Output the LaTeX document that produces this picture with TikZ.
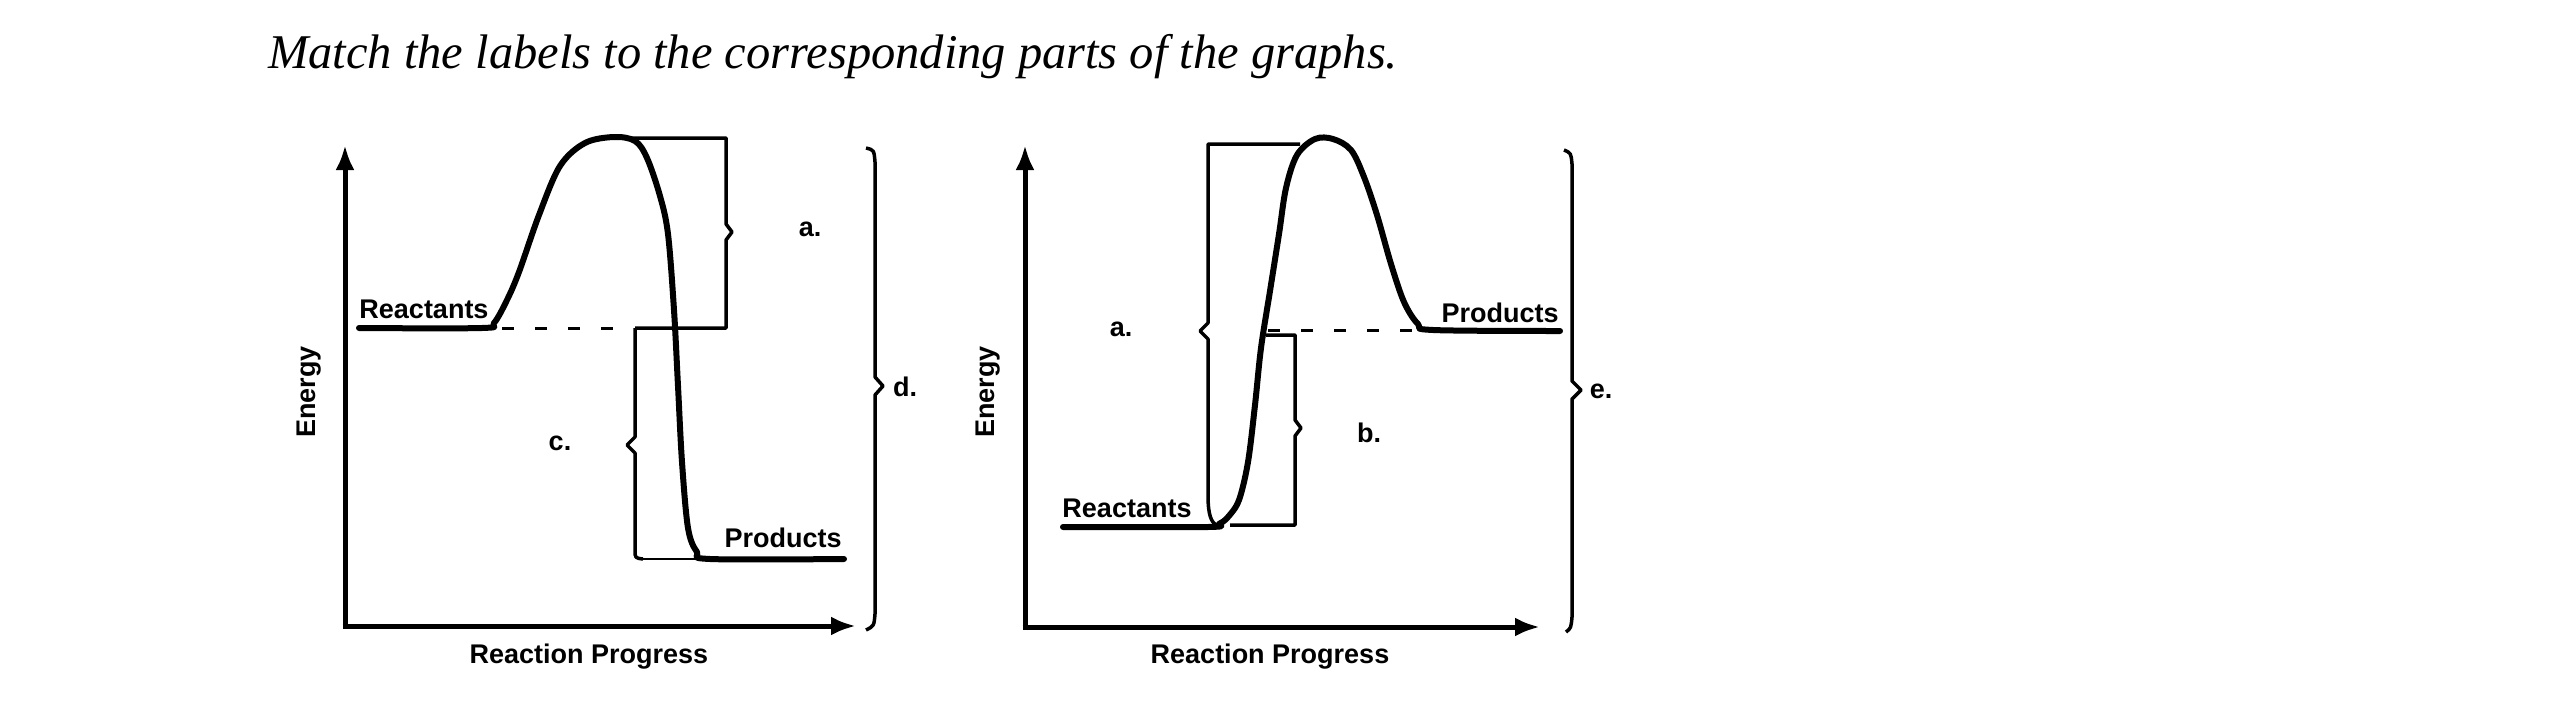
\documentclass[tikz,border=0pt]{standalone}
\usepackage{fontspec}
\setmainfont{Liberation Serif}
\setsansfont{Liberation Sans}
\usetikzlibrary{arrows.meta}
\begin{document}
\begin{tikzpicture}[x=1pt,y=-1pt,
  axis/.style={line width=5pt,-{Latex[length=25pt,width=19pt]}},
  curve/.style={line width=6pt,line join=round,line cap=round},
  brk/.style={line width=3.5pt,line join=round},
  thinl/.style={line width=2.5pt},
  dsh/.style={line width=3pt,dash pattern=on 12pt off 21pt},
  lab/.style={font=\sffamily\bfseries\fontsize{27}{31}\selectfont,inner sep=0pt},
  ttl/.style={font=\itshape\fontsize{48.5}{56}\selectfont,inner sep=0pt,anchor=base west}
  ]
\useasboundingbox (0,0) rectangle (2550,725);
\node[ttl] (title) at (268,68) {Match the labels to the corresponding parts of the graphs.};

% ---------- left graph ----------
\coordinate (LO) at (345,626);
\coordinate (LY) at (345,145);
\coordinate (LX) at (856,626);
\draw[axis] (LO) -- (LY);
\draw[axis] ([xshift=-2.5pt]LO) -- (LX);
\draw[curve] plot[smooth,tension=0.55] coordinates {(359,328) (482,328) (494,323) (507,300) (519,272) (539,215) (560,166) (585,143) (614,137) (635,141) (647,158) (660,196) (668,234) (674,310) (678,386) (682,462) (688,528) (697,552) (710,559) (844,559)};
\draw[dsh] (502,328) -- (622,328);
% bracket a
\draw[brk] (631,138) -- (726,138) -- (726,224) -- (732,232) -- (726,240) -- (726,328) -- (635,328);
% bracket c
\draw[brk] (635,328) -- (635,437) -- (627,445) -- (635,453) -- (635,550) .. controls (635,558) .. (643,559);
\draw[thinl] (643,559) -- (701,559);
% brace d
\draw[brk] (866,148) .. controls (874,150) .. (875,162) -- (875,377) -- (883,386) -- (875,395) -- (875,614) .. controls (874,626) .. (866,630);

\node[lab] (Lreac) at (424,309) {Reactants};
\node[lab] (Lprod) at (783,538) {Products};
\node[lab,rotate=90] (Len) at (309,392) {Energy};
\node[lab] (Lrp) at (589,657) {Reaction Progress};
\node[lab] (La) at (810,229) {a.};
\node[lab] (Lc) at (560,443) {c.};
\node[lab] (Ld) at (905,387) {d.};

% ---------- right graph ----------
\coordinate (RO) at (1025,627);
\coordinate (RY) at (1025,145);
\coordinate (RX) at (1540,627);
\draw[axis] (RO) -- (RY);
\draw[axis] ([xshift=-2.5pt]RO) -- (RX);
\draw[curve] plot[smooth,tension=0.55] coordinates {(1063,527) (1208,527) (1219,524) (1228,517) (1239,500) (1248,462) (1255,405) (1261,348) (1270,291) (1279,234) (1286,188) (1297,155) (1315,139) (1333,139) (1351,150) (1364,177) (1377,215) (1391,264) (1404,302) (1418,324) (1433,330) (1560,331)};
\draw[dsh] (1268,330) -- (1412,330);
% bracket a
\draw[brk] (1300,144) -- (1208,144) -- (1208,323) -- (1200,331) -- (1208,339) -- (1208,495) .. controls (1208,515) and (1211,523) .. (1218,526);
% bracket b
\draw[brk] (1266,335) -- (1295,335) -- (1295,420) -- (1301,428) -- (1295,436) -- (1295,525) -- (1230,525);
% brace e
\draw[brk] (1564,150) .. controls (1571,153) .. (1572,164) -- (1572,381) -- (1581,390) -- (1572,399) -- (1572,617) .. controls (1571,628) .. (1566,632);

\node[lab] (Rreac) at (1127,508) {Reactants};
\node[lab] (Rprod) at (1500,313) {Products};
\node[lab,rotate=90] (Ren) at (988,392) {Energy};
\node[lab] (Rrp) at (1270,657) {Reaction Progress};
\node[lab] (Ra) at (1121,329) {a.};
\node[lab] (Rb) at (1369,433) {b.};
\node[lab] (Re) at (1601,391) {e.};
\end{tikzpicture}
\end{document}
